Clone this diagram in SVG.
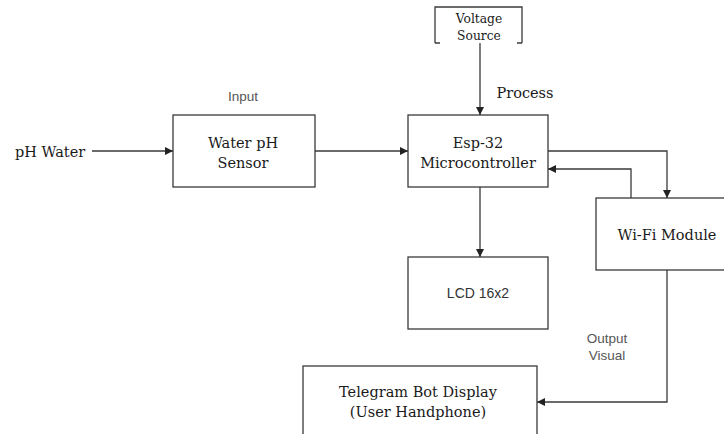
<svg xmlns="http://www.w3.org/2000/svg" width="724" height="434" viewBox="0 0 724 434">
<style>
.box{fill:#fff;stroke:#3a3a3a;stroke-width:1.3}
.ln{fill:none;stroke:#3a3a3a;stroke-width:1.3}
.sr{font-family:"DejaVu Serif","Liberation Serif",serif;font-size:14.5px;fill:#1a1a1a;text-anchor:middle}
.ss{font-family:"Liberation Sans",Arial,sans-serif;font-size:13.5px;fill:#555;text-anchor:middle}
</style>
<defs>
<marker id="ah" viewBox="0 0 10 10" refX="10" refY="5" markerWidth="8" markerHeight="8" markerUnits="userSpaceOnUse" orient="auto">
<path d="M0,0 L10,5 L0,10 z" fill="#222"/>
</marker>
</defs>
<rect width="724" height="434" fill="#fff"/>
<g id="connectors">
<line class="ln" x1="480" y1="43" x2="480" y2="115" marker-end="url(#ah)"/>
<line class="ln" x1="92" y1="151" x2="173" y2="151" marker-end="url(#ah)"/>
<line class="ln" x1="315" y1="151" x2="408" y2="151" marker-end="url(#ah)"/>
<polyline class="ln" points="548,151 667,151 667,198" marker-end="url(#ah)"/>
<polyline class="ln" points="631,198 631,169 548,169" marker-end="url(#ah)"/>
<line class="ln" x1="480" y1="187" x2="480" y2="257" marker-end="url(#ah)"/>
<polyline class="ln" points="667,270 667,402 537,402" marker-end="url(#ah)"/>
</g>
<g id="voltage-source">
<path class="ln" d="M435,43 V7 H522 V43 M435,43 H440 M522,43 H517" stroke="#555"/>
<text class="sr" x="479" y="23" style="font-size:12.3px">Voltage</text>
<text class="sr" x="479" y="40" style="font-size:12.3px">Source</text>
</g>
<g id="ph-water"><text class="sr" x="15" y="157" style="text-anchor:start">pH Water</text></g>
<g id="label-input"><text class="ss" x="243" y="101">Input</text></g>
<g id="label-process"><text class="sr" x="525" y="98">Process</text></g>
<g id="water-ph-sensor">
<rect class="box" x="173" y="115" width="142" height="72"/>
<text class="sr" x="243" y="148">Water pH</text>
<text class="sr" x="243" y="168">Sensor</text>
</g>
<g id="esp32">
<rect class="box" x="408" y="115" width="140" height="72"/>
<text class="sr" x="478" y="148">Esp-32</text>
<text class="sr" x="478" y="168">Microcontroller</text>
</g>
<g id="wifi-module">
<rect class="box" x="596" y="198" width="140" height="72"/>
<text class="sr" x="667" y="240">Wi-Fi Module</text>
</g>
<g id="lcd">
<rect class="box" x="408" y="257" width="140" height="72"/>
<text class="ss" x="478" y="298" style="font-size:14px;fill:#333">LCD 16x2</text>
</g>
<g id="label-output">
<text class="ss" x="607" y="343">Output</text>
<text class="ss" x="607" y="360">Visual</text>
</g>
<g id="telegram">
<rect class="box" x="303" y="366" width="234" height="80"/>
<text class="sr" x="418" y="397">Telegram Bot Display</text>
<text class="sr" x="418" y="417">(User Handphone)</text>
</g>
</svg>
